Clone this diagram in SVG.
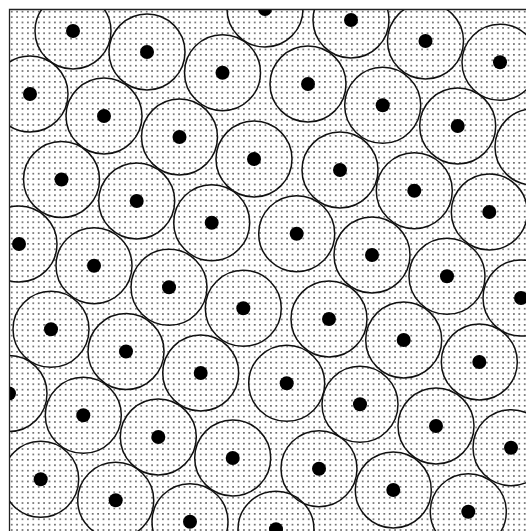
<svg xmlns="http://www.w3.org/2000/svg" width="526" height="531" viewBox="0 0 526 531">
<style>
.c{fill:none;stroke:#111;stroke-width:1.5}
.d{fill:#000}
</style>
<defs>
<pattern id="dots" x="9" y="9" width="5.4" height="5.4" patternUnits="userSpaceOnUse">
<rect x="2" y="2" width="1.4" height="1.3" fill="#111"/>
</pattern>
<clipPath id="clip"><rect x="9" y="9" width="600" height="600"/></clipPath>
</defs>
<rect x="0" y="0" width="526" height="531" fill="#fff"/>
<g clip-path="url(#clip)">
<rect x="9" y="9" width="600" height="600" fill="url(#dots)"/>
<g id="cells">
<circle class="c" cx="73" cy="31" r="38"/><circle class="d" cx="73" cy="31" r="7"/>
<circle class="c" cx="147" cy="52" r="38"/><circle class="d" cx="147" cy="52" r="7"/>
<circle class="c" cx="30" cy="94" r="38"/><circle class="d" cx="30" cy="94" r="7"/>
<circle class="c" cx="104" cy="116" r="38"/><circle class="d" cx="104" cy="116" r="7"/>
<circle class="c" cx="179.5" cy="137" r="38"/><circle class="d" cx="179.5" cy="137" r="7"/>
<circle class="c" cx="61.5" cy="179.5" r="38"/><circle class="d" cx="61.5" cy="179.5" r="7"/>
<circle class="c" cx="265" cy="9" r="38"/><circle class="d" cx="265" cy="9" r="7"/>
<circle class="c" cx="351" cy="20" r="38"/><circle class="d" cx="351" cy="20" r="7"/>
<circle class="c" cx="222.5" cy="72.7" r="38"/><circle class="d" cx="222.5" cy="72.7" r="7"/>
<circle class="c" cx="308" cy="84" r="38"/><circle class="d" cx="308" cy="84" r="7"/>
<circle class="c" cx="254" cy="159" r="38"/><circle class="d" cx="254" cy="159" r="7"/>
<circle class="c" cx="340" cy="170" r="38"/><circle class="d" cx="340" cy="170" r="7"/>
<circle class="c" cx="425.5" cy="41" r="38"/><circle class="d" cx="425.5" cy="41" r="7"/>
<circle class="c" cx="500" cy="62.3" r="38"/><circle class="d" cx="500" cy="62.3" r="7"/>
<circle class="c" cx="382.7" cy="105.3" r="38"/><circle class="d" cx="382.7" cy="105.3" r="7"/>
<circle class="c" cx="457.7" cy="126" r="38"/><circle class="d" cx="457.7" cy="126" r="7"/>
<circle class="c" cx="533" cy="147" r="38"/><circle class="d" cx="533" cy="147" r="7"/>
<circle class="c" cx="136.7" cy="201" r="38"/><circle class="d" cx="136.7" cy="201" r="7"/>
<circle class="c" cx="19" cy="244" r="38"/><circle class="d" cx="19" cy="244" r="7"/>
<circle class="c" cx="94" cy="265.7" r="38"/><circle class="d" cx="94" cy="265.7" r="7"/>
<circle class="c" cx="169" cy="287.3" r="38"/><circle class="d" cx="169" cy="287.3" r="7"/>
<circle class="c" cx="51" cy="329.3" r="38"/><circle class="d" cx="51" cy="329.3" r="7"/>
<circle class="c" cx="126" cy="351.5" r="38"/><circle class="d" cx="126" cy="351.5" r="7"/>
<circle class="c" cx="211.7" cy="222.7" r="38"/><circle class="d" cx="211.7" cy="222.7" r="7"/>
<circle class="c" cx="296.7" cy="233.7" r="38"/><circle class="d" cx="296.7" cy="233.7" r="7"/>
<circle class="c" cx="243.3" cy="308.3" r="38"/><circle class="d" cx="243.3" cy="308.3" r="7"/>
<circle class="c" cx="329" cy="319" r="38"/><circle class="d" cx="329" cy="319" r="7"/>
<circle class="c" cx="414.3" cy="190.7" r="38"/><circle class="d" cx="414.3" cy="190.7" r="7"/>
<circle class="c" cx="489.3" cy="212" r="38"/><circle class="d" cx="489.3" cy="212" r="7"/>
<circle class="c" cx="372" cy="255" r="38"/><circle class="d" cx="372" cy="255" r="7"/>
<circle class="c" cx="447" cy="276.3" r="38"/><circle class="d" cx="447" cy="276.3" r="7"/>
<circle class="c" cx="521" cy="298" r="38"/><circle class="d" cx="521" cy="298" r="7"/>
<circle class="c" cx="403.7" cy="340" r="38"/><circle class="d" cx="403.7" cy="340" r="7"/>
<circle class="c" cx="9" cy="393.5" r="38"/><circle class="d" cx="9" cy="393.5" r="7"/>
<circle class="c" cx="83.3" cy="415.3" r="38"/><circle class="d" cx="83.3" cy="415.3" r="7"/>
<circle class="c" cx="158.3" cy="437" r="38"/><circle class="d" cx="158.3" cy="437" r="7"/>
<circle class="c" cx="40.7" cy="479.3" r="38"/><circle class="d" cx="40.7" cy="479.3" r="7"/>
<circle class="c" cx="115.7" cy="500.3" r="38"/><circle class="d" cx="115.7" cy="500.3" r="7"/>
<circle class="c" cx="200.7" cy="373" r="38"/><circle class="d" cx="200.7" cy="373" r="7"/>
<circle class="c" cx="286.7" cy="383.3" r="38"/><circle class="d" cx="286.7" cy="383.3" r="7"/>
<circle class="c" cx="360" cy="404.3" r="38"/><circle class="d" cx="360" cy="404.3" r="7"/>
<circle class="c" cx="232.7" cy="458" r="38"/><circle class="d" cx="232.7" cy="458" r="7"/>
<circle class="c" cx="319" cy="468.7" r="38"/><circle class="d" cx="319" cy="468.7" r="7"/>
<circle class="c" cx="190" cy="521.7" r="38"/><circle class="d" cx="190" cy="521.7" r="7"/>
<circle class="c" cx="276" cy="529.3" r="38"/><circle class="d" cx="276" cy="529.3" r="7"/>
<circle class="c" cx="479.3" cy="362" r="38"/><circle class="d" cx="479.3" cy="362" r="7"/>
<circle class="c" cx="436" cy="426" r="38"/><circle class="d" cx="436" cy="426" r="7"/>
<circle class="c" cx="511" cy="447.7" r="38"/><circle class="d" cx="511" cy="447.7" r="7"/>
<circle class="c" cx="393.3" cy="490" r="38"/><circle class="d" cx="393.3" cy="490" r="7"/>
<circle class="c" cx="468.3" cy="511.7" r="38"/><circle class="d" cx="468.3" cy="511.7" r="7"/>
</g>
</g>
<path d="M9.5,531 V9.5 H526" fill="none" stroke="#222" stroke-width="1.3"/>
</svg>
